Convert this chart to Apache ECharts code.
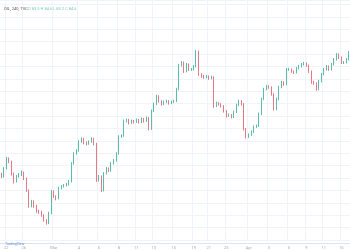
<!DOCTYPE html>
<html><head><meta charset="utf-8">
<script src="https://cdn.jsdelivr.net/npm/echarts@6/dist/echarts.min.js"></script>
<style>html,body{margin:0;padding:0;background:#fff}#c{width:350px;height:250px}</style>
</head><body><div id="c"></div>
<script>
// 240-minute candles (price)
const opens = [75.30,75.12,75.76,76.56,76.32,75.36,74.72,75.12,75.28,75.44,
74.96,74.00,72.72,73.12,72.72,72.32,72.24,72.00,71.60,71.36,
72.16,73.92,73.52,73.36,74.16,74.32,74.40,74.48,74.72,76.16,
76.96,77.20,77.92,78.16,77.84,77.76,77.92,78.16,77.76,74.80,
75.12,74.00,75.36,75.76,75.60,76.16,76.40,76.96,78.32,78.40,
79.60,79.68,79.44,79.60,79.52,79.68,79.52,79.76,79.60,79.84,
78.96,80.40,80.96,81.60,81.20,80.96,81.12,81.20,81.04,81.12,
81.20,82.16,84.08,84.32,83.60,84.16,83.76,83.76,84.00,85.20,
83.36,83.20,83.12,83.20,83.04,83.12,80.80,81.04,80.96,80.80,
80.40,80.00,80.08,79.92,80.32,80.88,81.20,80.96,78.96,78.32,
78.48,78.72,79.12,79.20,80.16,81.36,82.16,82.40,82.32,81.76,
80.56,81.36,82.32,82.72,82.56,83.76,83.76,83.60,83.52,83.84,
84.00,84.16,84.24,84.08,83.60,82.72,82.64,82.16,82.80,83.36,
83.76,84.00,83.76,84.16,84.56,84.96,84.72,84.32,84.32,84.56];
const closes = [75.12,75.76,76.56,76.32,75.36,74.72,75.12,75.28,75.44,74.96,
74.00,72.72,73.12,72.72,72.32,72.24,72.00,71.60,71.36,72.16,
73.92,73.52,73.36,74.16,74.32,74.40,74.48,74.72,76.16,76.96,
77.20,77.92,78.16,77.84,77.76,77.92,78.16,77.76,74.80,75.12,
74.00,75.36,75.76,75.60,76.16,76.40,76.96,78.32,78.40,79.60,
79.68,79.44,79.60,79.52,79.68,79.52,79.76,79.60,79.84,78.96,
80.40,80.96,81.60,81.20,80.96,81.12,81.20,81.04,81.12,81.20,
82.16,84.08,84.32,83.60,84.16,83.76,83.76,84.00,85.20,83.36,
83.20,83.12,83.20,83.04,83.12,80.80,81.04,80.96,80.80,80.40,
80.00,80.08,79.92,80.32,80.88,81.20,80.96,78.96,78.32,78.48,
78.72,79.12,79.20,80.16,81.36,82.16,82.40,82.32,81.76,80.56,
81.36,82.32,82.72,82.56,83.76,83.76,83.60,83.52,83.84,84.00,
84.16,84.24,84.08,83.60,82.72,82.64,82.16,82.80,83.36,83.76,
84.00,83.76,84.16,84.56,84.96,84.72,84.32,84.32,84.56,85.12];
const highs = [75.42,75.88,76.70,76.66,76.40,75.44,75.24,75.40,75.60,75.52,
75.04,74.08,73.24,73.20,72.84,72.44,72.36,72.08,71.68,72.28,
74.04,74.00,73.60,74.28,74.44,74.52,74.60,74.84,76.28,77.08,
77.32,78.04,78.28,78.24,77.96,78.04,78.28,78.24,77.84,75.24,
75.20,75.48,75.88,75.84,76.28,76.52,77.08,78.44,78.52,79.72,
79.80,79.76,79.72,79.68,79.80,79.76,79.88,79.84,79.96,79.92,
80.52,81.08,81.72,81.68,81.28,81.24,81.32,81.28,81.24,81.32,
82.28,84.20,84.44,84.40,84.28,84.24,83.88,84.12,85.32,85.28,
83.44,83.32,83.32,83.28,83.24,83.20,81.16,81.12,81.04,80.88,
80.48,80.20,80.16,80.44,81.00,81.32,81.28,81.04,79.04,78.60,
78.84,79.24,79.32,80.28,81.48,82.28,82.52,82.48,82.40,81.84,
81.48,82.44,82.84,82.80,83.88,83.88,83.84,83.68,83.96,84.12,
84.28,84.36,84.32,84.16,83.68,82.84,82.72,82.92,83.48,83.88,
84.12,84.08,84.28,84.68,85.08,85.04,84.80,84.44,84.68,85.24];
const lows = [75.00,75.04,75.68,76.20,75.20,74.56,74.64,75.04,75.16,74.84,
73.88,72.60,72.64,72.60,72.20,72.12,71.88,71.48,71.24,71.28,
72.08,73.40,73.20,73.28,74.08,74.24,74.32,74.40,74.64,76.08,
76.88,77.12,77.84,77.72,77.64,77.68,77.84,77.64,74.68,74.72,
73.88,73.92,75.28,75.48,75.52,76.08,76.32,76.88,78.24,78.32,
79.48,79.32,79.36,79.40,79.44,79.40,79.44,79.48,79.52,78.84,
78.88,80.32,80.88,81.08,80.84,80.88,81.04,80.92,80.96,81.04,
81.12,82.08,84.00,83.48,83.52,83.64,83.64,83.68,83.92,83.24,
83.08,83.00,83.04,82.92,82.96,80.68,80.72,80.84,80.68,80.28,
79.88,79.92,79.80,79.84,80.24,80.80,80.84,78.84,78.20,78.24,
78.40,78.64,79.04,79.12,80.08,81.28,82.08,82.20,81.64,80.44,
80.48,81.28,82.24,82.44,82.48,83.64,83.48,83.40,83.44,83.76,
83.92,84.08,83.96,83.48,82.60,82.52,82.04,82.08,82.72,83.28,
83.68,83.64,83.68,84.08,84.48,84.60,84.20,84.20,84.24,84.48];
const tickIndex = [2,9,21,31,39,47,54,61,69,77,83,90,99,107,115,122,129,136];
const tickText = ["22","26","Mar","4","6","8","11","13","15","19","21","25","Apr","3","5","9","11","15"];

const categories = opens.map((_, i) => String(i));
const data = opens.map((o, i) => [o, closes[i], lows[i], highs[i]]);
const showTick = (idx) => tickIndex.indexOf(idx) >= 0;

const chart = echarts.init(document.getElementById('c'), null, {renderer: 'canvas'});
chart.setOption({
  animation: false,
  backgroundColor: '#ffffff',
  grid: {left: 0, right: 0, top: 0, bottom: 8, containLabel: false},
  title: [
    {text: 'OIL, 240, TVC', left: -1, top: 2, textStyle: {fontSize: 4, color: '#555', fontWeight: 'normal', fontFamily: 'Roboto'}},
    {text: '· O 83.5 H 84.6 L 83.2 C 84.6', left: 21, top: 2, textStyle: {fontSize: 4, color: '#7fcbbd', fontWeight: 'normal', fontFamily: 'Roboto'}},
    {text: 'TradingView', left: 0, top: 237, textStyle: {fontSize: 3.5, color: '#5b8ee6', fontWeight: 'normal', fontFamily: 'Roboto'}}
  ],
  xAxis: {
    type: 'category', data: categories, boundaryGap: true, offset: 3,
    axisLine: {lineStyle: {color: '#e0e3eb', width: 1}},
    axisTick: {show: false},
    axisLabel: {interval: (idx) => showTick(idx), formatter: (v, idx) => tickText[tickIndex.indexOf(idx)] || '', fontSize: 4, color: '#aaa', margin: 3, fontFamily: 'Roboto'},
    splitLine: {show: true, interval: (idx) => showTick(idx), lineStyle: {color: '#f0f3fa', width: 1}}
  },
  yAxis: {
    type: 'value', min: 70, max: 89.36, interval: 1, position: 'right',
    axisLine: {show: false}, axisTick: {show: false}, axisLabel: {show: false},
    splitLine: {show: true, lineStyle: {color: '#f0f3fa', width: 1}}
  },
  series: [{
    type: 'candlestick', data: data, barWidth: '40%',
    itemStyle: {color: '#5cbcaa', color0: '#e57a86', borderColor: '#5cbcaa', borderColor0: '#e57a86', borderWidth: 1}
  }]
});
</script></body></html>
